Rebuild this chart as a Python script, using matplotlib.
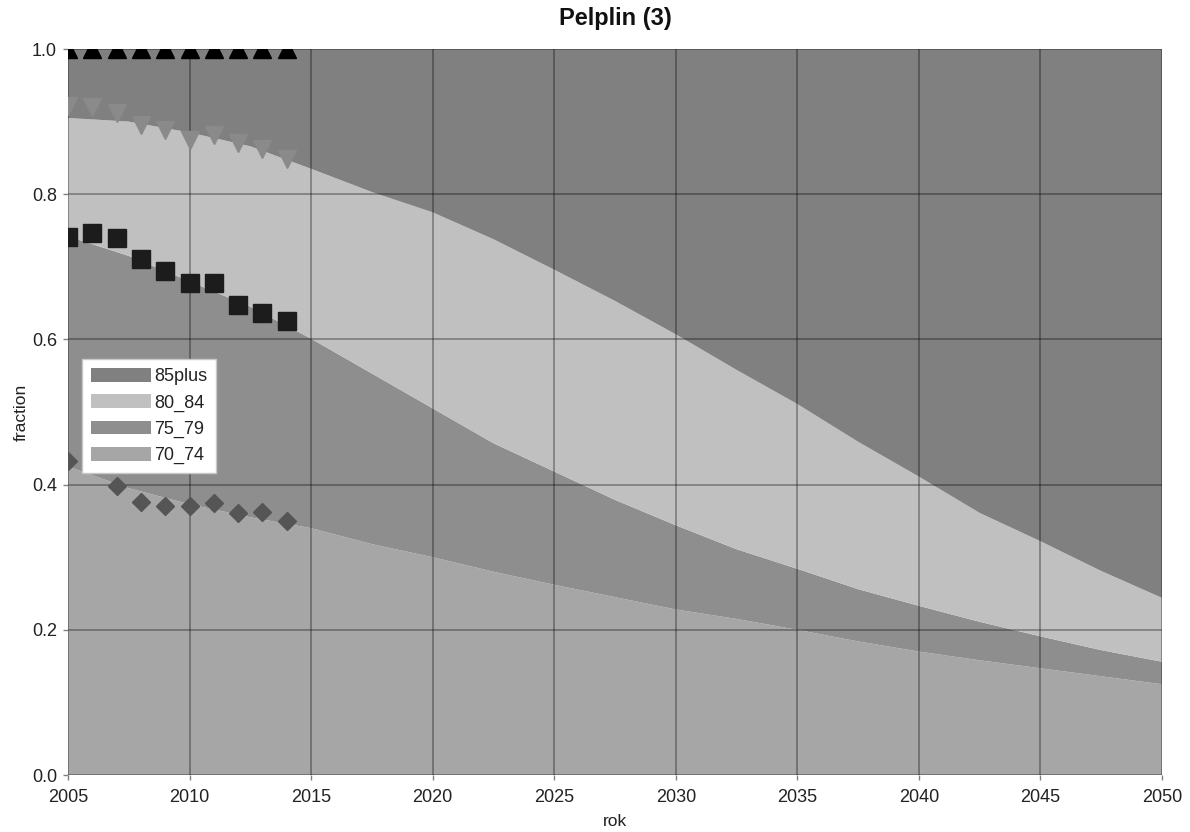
import matplotlib
matplotlib.use("Agg")
import matplotlib.pyplot as plt
import numpy as np

plt.rcParams['font.family'] = ['Liberation Sans', 'DejaVu Sans']

# ---- data ----
years = [2005, 2007.5, 2010, 2012.5, 2015, 2017.5, 2020, 2022.5, 2025, 2027.5,
         2030, 2032.5, 2035, 2037.5, 2040, 2042.5, 2045, 2047.5, 2050]
share_70_74 = [0.425, 0.395, 0.373, 0.355, 0.340, 0.318, 0.300, 0.280, 0.262, 0.245,
               0.228, 0.215, 0.200, 0.184, 0.170, 0.158, 0.147, 0.136, 0.125]
share_75_79 = [0.317, 0.320, 0.307, 0.290, 0.261, 0.235, 0.205, 0.177, 0.156, 0.134,
               0.116, 0.096, 0.084, 0.072, 0.063, 0.053, 0.044, 0.036, 0.031]
share_80_84 = [0.163, 0.185, 0.205, 0.221, 0.234, 0.250, 0.270, 0.281, 0.278, 0.274,
               0.263, 0.247, 0.227, 0.203, 0.178, 0.150, 0.131, 0.109, 0.088]
share_85plus = [0.095, 0.100, 0.115, 0.134, 0.165, 0.197, 0.225, 0.262, 0.304, 0.347,
                0.393, 0.442, 0.489, 0.541, 0.589, 0.639, 0.678, 0.719, 0.756]

obs_years = [2005, 2006, 2007, 2008, 2009, 2010, 2011, 2012, 2013, 2014]
obs_cum_70_74 = [0.432, 0.428, 0.398, 0.376, 0.370, 0.371, 0.375, 0.361, 0.362, 0.350]
obs_cum_75_79 = [0.741, 0.747, 0.739, 0.711, 0.694, 0.677, 0.677, 0.648, 0.636, 0.626]
obs_cum_80_84 = [0.921, 0.920, 0.912, 0.895, 0.888, 0.874, 0.882, 0.871, 0.862, 0.848]
obs_cum_85plus = [1.0, 1.0, 1.0, 1.0, 1.0, 1.0, 1.0, 1.0, 1.0, 1.0]

labels = ['70_74', '75_79', '80_84', '85plus']
colors = ['#a6a6a6', '#8e8e8e', '#c0c0c0', '#808080']
xticks = [2005, 2010, 2015, 2020, 2025, 2030, 2035, 2040, 2045, 2050]
yticks = [0.0, 0.2, 0.4, 0.6, 0.8, 1.0]

# ---- figure ----
W, H = 1190, 832
fig = plt.figure(figsize=(W / 100, H / 100), dpi=100)
L, R, T, B = 68, 1162, 49, 775
ax = fig.add_axes([L / W, 1 - B / H, (R - L) / W, (B - T) / H])

polys = ax.stackplot(years, share_70_74, share_75_79, share_80_84, share_85plus,
                     colors=colors, labels=labels, linewidth=0, zorder=1)

ax.set_xlim(2005, 2050)
ax.set_ylim(0, 1)
ax.set_xticks(xticks)
ax.set_yticks(yticks)
ax.set_yticklabels([f"{v:.1f}" for v in yticks])
ax.grid(True, color='black', alpha=0.33, linewidth=1.3, zorder=2)
ax.set_axisbelow(False)
for s in ax.spines.values():
    s.set_visible(False)

ax.tick_params(axis='both', which='major', length=3.6, width=1, color='#808080',
               labelsize=13, labelcolor='#222222')
ax.tick_params(axis='x', pad=6.5)
ax.tick_params(axis='y', pad=4.4)

mk = dict(linestyle='none', zorder=4, clip_on=True)
ax.plot(obs_years, obs_cum_70_74, marker='D', markersize=8.7, color='#555555', **mk)
ax.plot(obs_years, obs_cum_75_79, marker='s', markersize=12.5, color='#1c1c1c', **mk)
ax.plot(obs_years, obs_cum_80_84, marker='v', markersize=12.5, color='#8a8a8a', **mk)
ax.plot(obs_years, obs_cum_85plus, marker='^', markersize=13, color='#000000', **mk)

ax.set_xlabel('rok', fontsize=12.5, color='#222222')
ax.set_ylabel('fraction', fontsize=12.5, color='#222222')
ax.xaxis.set_label_coords(0.5, (B - 814) / (B - T))
ax.yaxis.set_label_coords((29 - L) / (R - L), 0.5)

fig.text((L + R) / 2 / W, 1 - 18 / H, 'Pelplin (3)', ha='center', va='center',
         fontsize=17, fontweight='bold', color='#111111')

handles = polys[::-1]
leg = fig.legend(handles, labels[::-1], loc='upper left',
                 bbox_to_anchor=(82 / W, 1 - 359 / H), borderaxespad=0,
                 fontsize=13, frameon=True, fancybox=False, framealpha=1,
                 edgecolor='#c8c8c8', facecolor='white',
                 handlelength=3.3, handleheight=0.8, handletextpad=0.2,
                 labelspacing=0.5, borderpad=0.5)
leg.get_frame().set_linewidth(1.0)
leg.set_zorder(10)
for t in leg.get_texts():
    t.set_color('#222222')

fig.savefig('out.png', dpi=100)
